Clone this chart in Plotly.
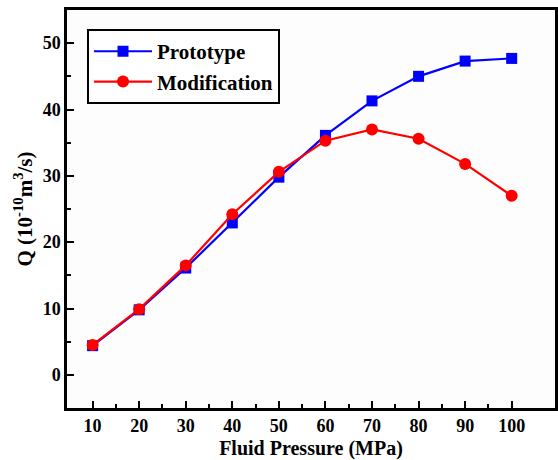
import plotly.graph_objects as go

# Fluid pressure (MPa) and flow rate Q (1e-10 m^3/s)
pressure = [10, 20, 30, 40, 50, 60, 70, 80, 90, 100]
q_prototype = [4.4, 9.8, 16.1, 22.9, 29.8, 36.1, 41.3, 45.0, 47.3, 47.7]
q_modification = [4.5, 9.9, 16.5, 24.2, 30.6, 35.3, 37.0, 35.6, 31.8, 27.0]

x_ticks = [10, 20, 30, 40, 50, 60, 70, 80, 90, 100]
x_minor = [15, 25, 35, 45, 55, 65, 75, 85, 95]
y_ticks = [0, 10, 20, 30, 40, 50]
y_minor = [5, 15, 25, 35, 45]

FONT = "Times New Roman, Liberation Serif, DejaVu Serif, serif"

fig = go.Figure()
fig.add_trace(go.Scatter(
    x=pressure, y=q_prototype, name="<b>Prototype</b>",
    mode="lines+markers",
    line=dict(color="#0000ff", width=2.2),
    marker=dict(symbol="square", size=11, color="#0000ff"),
))
fig.add_trace(go.Scatter(
    x=pressure, y=q_modification, name="<b>Modification</b>",
    mode="lines+markers",
    line=dict(color="#ff0000", width=2.2),
    marker=dict(symbol="circle", size=12, color="#ff0000"),
))

axis_common = dict(
    showline=True, linecolor="black", linewidth=2.5, mirror=True,
    ticks="inside", ticklen=7, tickwidth=2, tickcolor="black",
    showgrid=False, zeroline=False,
    tickfont=dict(family=FONT, size=18, color="black"),
)

fig.update_xaxes(
    **axis_common,
    range=[4.5, 109.3],
    tickmode="array", tickvals=x_ticks,
    ticktext=[f"<b>{v}</b>" for v in x_ticks],
    minor=dict(tickmode="array", tickvals=x_minor, ticks="inside",
               ticklen=4, tickwidth=2, tickcolor="black"),
    title=dict(text="<b>Fluid Pressure (MPa)</b>",
               font=dict(family=FONT, size=20, color="black"), standoff=8),
)
fig.update_yaxes(
    **axis_common,
    range=[-5, 55],
    tickmode="array", tickvals=y_ticks,
    ticktext=[f"<b>{v}</b>" for v in y_ticks],
    minor=dict(tickmode="array", tickvals=y_minor, ticks="inside",
               ticklen=4, tickwidth=2, tickcolor="black"),
    title=dict(text="<b>Q (10<sup>-10</sup>m<sup>3</sup>/s)</b>",
               font=dict(family=FONT, size=21, color="black"), standoff=5),
)

fig.update_layout(
    width=558, height=460,
    margin=dict(l=67, r=0, t=10, b=52),
    paper_bgcolor="white", plot_bgcolor="#fdfdfd",
    showlegend=True,
    font=dict(family=FONT, color="black"),
    legend=dict(
        x=0.041, y=0.952, xanchor="left", yanchor="top",
        bgcolor="white", bordercolor="black", borderwidth=2,
        font=dict(family=FONT, size=21, color="black"),
        tracegroupgap=0, itemwidth=58,
    ),
)

fig.write_html("out.html")
